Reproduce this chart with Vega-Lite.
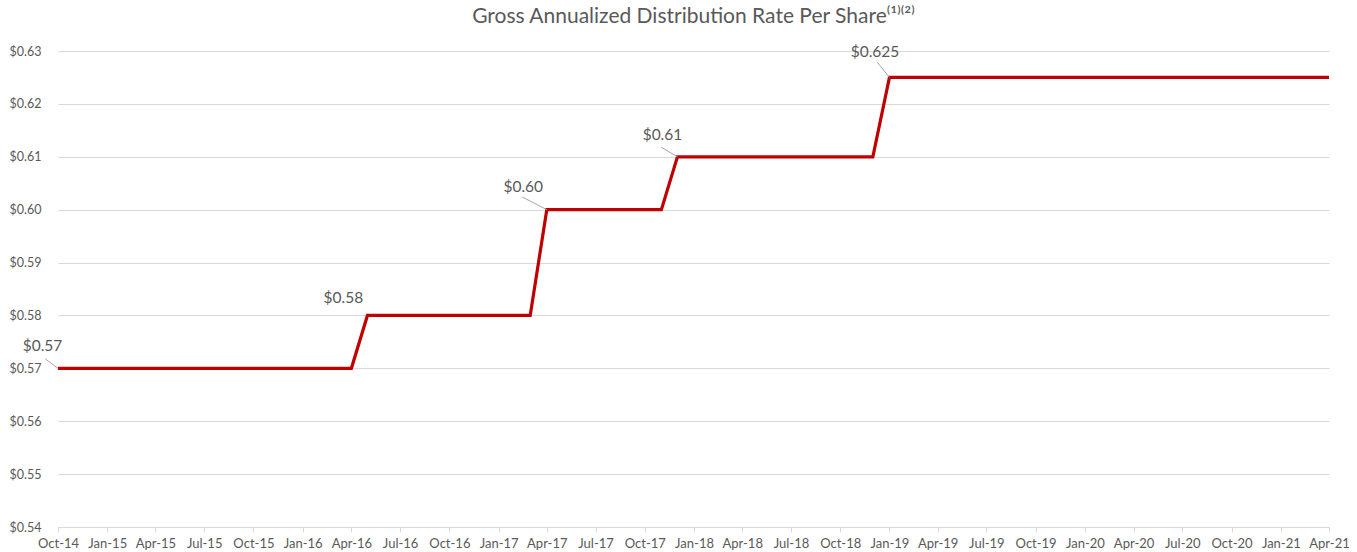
{
  "$schema": "https://vega.github.io/schema/vega-lite/v6.json",
  "width": 1271,
  "height": 476,
  "autosize": "none",
  "padding": {"left": 58, "top": 51, "right": 28, "bottom": 25},
  "background": "#ffffff",
  "config": {
    "font": "Lato",
    "view": {"stroke": null}
  },
  "title": {
    "text": "Gross Annualized Distribution Rate Per Share⁽¹⁾⁽²⁾",
    "anchor": "middle",
    "frame": "group",
    "font": "Lato",
    "fontSize": 21,
    "fontWeight": "normal",
    "color": "#595959",
    "offset": 18
  },
  "datasets": {
    "rates": [
      {"date": "2014-10-01", "rate": 0.57},
      {"date": "2014-11-01", "rate": 0.57},
      {"date": "2014-12-01", "rate": 0.57},
      {"date": "2015-01-01", "rate": 0.57},
      {"date": "2015-02-01", "rate": 0.57},
      {"date": "2015-03-01", "rate": 0.57},
      {"date": "2015-04-01", "rate": 0.57},
      {"date": "2015-05-01", "rate": 0.57},
      {"date": "2015-06-01", "rate": 0.57},
      {"date": "2015-07-01", "rate": 0.57},
      {"date": "2015-08-01", "rate": 0.57},
      {"date": "2015-09-01", "rate": 0.57},
      {"date": "2015-10-01", "rate": 0.57},
      {"date": "2015-11-01", "rate": 0.57},
      {"date": "2015-12-01", "rate": 0.57},
      {"date": "2016-01-01", "rate": 0.57},
      {"date": "2016-02-01", "rate": 0.57},
      {"date": "2016-03-01", "rate": 0.57},
      {"date": "2016-04-01", "rate": 0.57},
      {"date": "2016-05-01", "rate": 0.58},
      {"date": "2016-06-01", "rate": 0.58},
      {"date": "2016-07-01", "rate": 0.58},
      {"date": "2016-08-01", "rate": 0.58},
      {"date": "2016-09-01", "rate": 0.58},
      {"date": "2016-10-01", "rate": 0.58},
      {"date": "2016-11-01", "rate": 0.58},
      {"date": "2016-12-01", "rate": 0.58},
      {"date": "2017-01-01", "rate": 0.58},
      {"date": "2017-02-01", "rate": 0.58},
      {"date": "2017-03-01", "rate": 0.58},
      {"date": "2017-04-01", "rate": 0.60},
      {"date": "2017-05-01", "rate": 0.60},
      {"date": "2017-06-01", "rate": 0.60},
      {"date": "2017-07-01", "rate": 0.60},
      {"date": "2017-08-01", "rate": 0.60},
      {"date": "2017-09-01", "rate": 0.60},
      {"date": "2017-10-01", "rate": 0.60},
      {"date": "2017-11-01", "rate": 0.60},
      {"date": "2017-12-01", "rate": 0.61},
      {"date": "2018-01-01", "rate": 0.61},
      {"date": "2018-02-01", "rate": 0.61},
      {"date": "2018-03-01", "rate": 0.61},
      {"date": "2018-04-01", "rate": 0.61},
      {"date": "2018-05-01", "rate": 0.61},
      {"date": "2018-06-01", "rate": 0.61},
      {"date": "2018-07-01", "rate": 0.61},
      {"date": "2018-08-01", "rate": 0.61},
      {"date": "2018-09-01", "rate": 0.61},
      {"date": "2018-10-01", "rate": 0.61},
      {"date": "2018-11-01", "rate": 0.61},
      {"date": "2018-12-01", "rate": 0.61},
      {"date": "2019-01-01", "rate": 0.625},
      {"date": "2019-02-01", "rate": 0.625},
      {"date": "2019-03-01", "rate": 0.625},
      {"date": "2019-04-01", "rate": 0.625},
      {"date": "2019-05-01", "rate": 0.625},
      {"date": "2019-06-01", "rate": 0.625},
      {"date": "2019-07-01", "rate": 0.625},
      {"date": "2019-08-01", "rate": 0.625},
      {"date": "2019-09-01", "rate": 0.625},
      {"date": "2019-10-01", "rate": 0.625},
      {"date": "2019-11-01", "rate": 0.625},
      {"date": "2019-12-01", "rate": 0.625},
      {"date": "2020-01-01", "rate": 0.625},
      {"date": "2020-02-01", "rate": 0.625},
      {"date": "2020-03-01", "rate": 0.625},
      {"date": "2020-04-01", "rate": 0.625},
      {"date": "2020-05-01", "rate": 0.625},
      {"date": "2020-06-01", "rate": 0.625},
      {"date": "2020-07-01", "rate": 0.625},
      {"date": "2020-08-01", "rate": 0.625},
      {"date": "2020-09-01", "rate": 0.625},
      {"date": "2020-10-01", "rate": 0.625},
      {"date": "2020-11-01", "rate": 0.625},
      {"date": "2020-12-01", "rate": 0.625},
      {"date": "2021-01-01", "rate": 0.625},
      {"date": "2021-02-01", "rate": 0.625},
      {"date": "2021-03-01", "rate": 0.625},
      {"date": "2021-04-01", "rate": 0.625}
    ],
    "labels": [
      {"label": "$0.57", "date": "2014-09-02", "rate": 0.5742, "lineFrom": "2014-09-07", "lineFromRate": 0.5718, "pointDate": "2014-10-01", "pointRate": 0.57, "leader": true},
      {"label": "$0.58", "date": "2016-03-17", "rate": 0.5833, "lineFrom": "2016-05-01", "lineFromRate": 0.58, "pointDate": "2016-05-01", "pointRate": 0.58, "leader": false},
      {"label": "$0.60", "date": "2017-02-16", "rate": 0.6043, "lineFrom": "2017-02-14", "lineFromRate": 0.6024, "pointDate": "2017-04-01", "pointRate": 0.60, "leader": true},
      {"label": "$0.61", "date": "2017-11-03", "rate": 0.6141, "lineFrom": "2017-11-01", "lineFromRate": 0.6118, "pointDate": "2017-12-01", "pointRate": 0.61, "leader": true},
      {"label": "$0.625", "date": "2018-12-05", "rate": 0.6298, "lineFrom": "2018-12-09", "lineFromRate": 0.6279, "pointDate": "2019-01-01", "pointRate": 0.625, "leader": true}
    ]
  },
  "layer": [
    {
      "data": {"name": "rates"},
      "mark": {"type": "line", "color": "#c00000", "strokeWidth": 3.2, "strokeJoin": "miter"},
      "encoding": {
        "x": {
          "field": "date",
          "type": "temporal",
          "scale": {
            "type": "utc",
            "domain": [
              {"year": 2014, "month": 10, "date": 1, "utc": true},
              {"year": 2021, "month": 4, "date": 1, "utc": true}
            ],
            "nice": false
          },
          "axis": {
            "title": null,
            "format": "%b-%y",
            "values": [
              {"year": 2014, "month": 10, "date": 1, "utc": true},
              {"year": 2015, "month": 1, "date": 1, "utc": true},
              {"year": 2015, "month": 4, "date": 1, "utc": true},
              {"year": 2015, "month": 7, "date": 1, "utc": true},
              {"year": 2015, "month": 10, "date": 1, "utc": true},
              {"year": 2016, "month": 1, "date": 1, "utc": true},
              {"year": 2016, "month": 4, "date": 1, "utc": true},
              {"year": 2016, "month": 7, "date": 1, "utc": true},
              {"year": 2016, "month": 10, "date": 1, "utc": true},
              {"year": 2017, "month": 1, "date": 1, "utc": true},
              {"year": 2017, "month": 4, "date": 1, "utc": true},
              {"year": 2017, "month": 7, "date": 1, "utc": true},
              {"year": 2017, "month": 10, "date": 1, "utc": true},
              {"year": 2018, "month": 1, "date": 1, "utc": true},
              {"year": 2018, "month": 4, "date": 1, "utc": true},
              {"year": 2018, "month": 7, "date": 1, "utc": true},
              {"year": 2018, "month": 10, "date": 1, "utc": true},
              {"year": 2019, "month": 1, "date": 1, "utc": true},
              {"year": 2019, "month": 4, "date": 1, "utc": true},
              {"year": 2019, "month": 7, "date": 1, "utc": true},
              {"year": 2019, "month": 10, "date": 1, "utc": true},
              {"year": 2020, "month": 1, "date": 1, "utc": true},
              {"year": 2020, "month": 4, "date": 1, "utc": true},
              {"year": 2020, "month": 7, "date": 1, "utc": true},
              {"year": 2020, "month": 10, "date": 1, "utc": true},
              {"year": 2021, "month": 1, "date": 1, "utc": true},
              {"year": 2021, "month": 4, "date": 1, "utc": true}
            ],
            "grid": false,
            "domainColor": "#d9d9d9",
            "tickColor": "#d9d9d9",
            "tickSize": 5,
            "labelPadding": 5,
            "labelFont": "Lato",
            "labelFontSize": 13,
            "labelColor": "#595959",
            "labelAngle": 0,
            "labelOverlap": false,
            "labelFlush": false
          }
        },
        "y": {
          "field": "rate",
          "type": "quantitative",
          "scale": {"domain": [0.54, 0.63], "nice": false, "zero": false},
          "axis": {
            "title": null,
            "values": [0.54, 0.55, 0.56, 0.57, 0.58, 0.59, 0.60, 0.61, 0.62, 0.63],
            "format": "$.2f",
            "domain": false,
            "ticks": false,
            "grid": true,
            "gridColor": "#d9d9d9",
            "gridWidth": 1,
            "labelPadding": 17,
            "labelFont": "Lato",
            "labelFontSize": 12.5,
            "labelColor": "#595959"
          }
        }
      }
    },
    {
      "data": {"name": "labels"},
      "transform": [{"filter": "datum.leader"}],
      "mark": {"type": "rule", "color": "#a6a6a6", "strokeWidth": 1},
      "encoding": {
        "x": {"field": "lineFrom", "type": "temporal"},
        "y": {"field": "lineFromRate", "type": "quantitative"},
        "x2": {"field": "pointDate"},
        "y2": {"field": "pointRate"}
      }
    },
    {
      "data": {"name": "labels"},
      "mark": {"type": "text", "font": "Lato", "fontSize": 15.5, "color": "#595959", "align": "center", "baseline": "middle"},
      "encoding": {
        "x": {"field": "date", "type": "temporal"},
        "y": {"field": "rate", "type": "quantitative"},
        "text": {"field": "label"}
      }
    }
  ]
}
